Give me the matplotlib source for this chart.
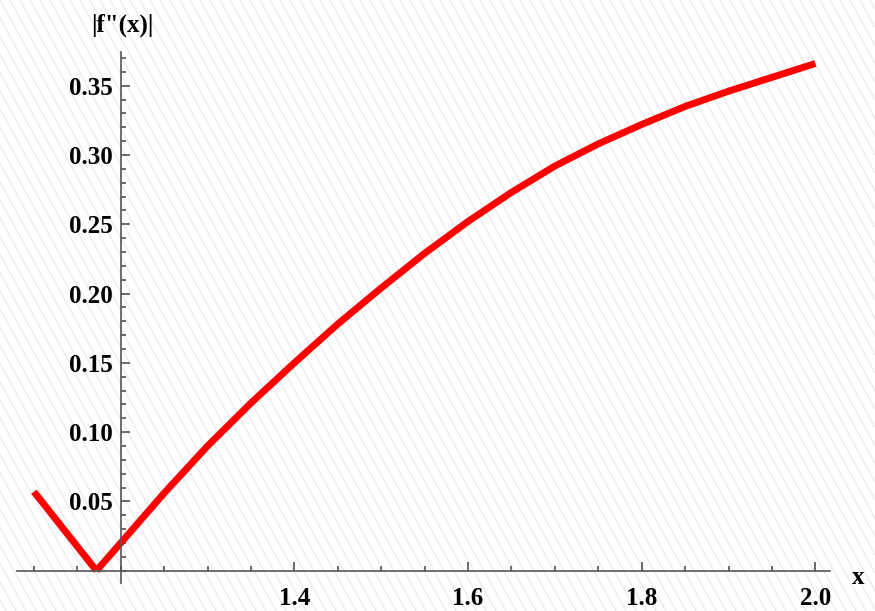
import matplotlib
matplotlib.use('Agg')
import matplotlib.pyplot as plt
import numpy as np
from matplotlib.ticker import MultipleLocator, FixedLocator

# values
x_left = [1.10, 1.172]
y_left = [0.057, 0.0]

x_right = [1.172, 1.20, 1.25, 1.30, 1.35, 1.40, 1.45, 1.50, 1.55, 1.60,
           1.65, 1.70, 1.75, 1.80, 1.85, 1.90, 1.95, 2.00]
y_right = [0.0, 0.020, 0.056, 0.090, 0.121, 0.150, 0.178, 0.204, 0.229, 0.252,
           0.273, 0.292, 0.308, 0.322, 0.335, 0.346, 0.356, 0.366]

x_ticks = [1.4, 1.6, 1.8, 2.0]
y_ticks = [0.05, 0.10, 0.15, 0.20, 0.25, 0.30, 0.35]

W, H = 875, 611
fig = plt.figure(figsize=(W / 100, H / 100), dpi=100)
fig.patch.set_facecolor('white')

# faint diagonal background pattern
bg = fig.add_axes([0, 0, 1, 1], zorder=-5)
bg.set_xlim(0, W)
bg.set_ylim(H, 0)
bg.axis('off')
for x0 in np.arange(-400, W + 20, 10):
    bg.plot([x0, x0 + 0.55 * H], [0, H], color='#eaeaea', lw=0.9)

ax = fig.add_axes([17 / W, 1 - 583 / H, (830 - 17) / W, (583 - 52) / H])
ax.patch.set_alpha(0)
ax.set_xlim(1.0805, 2.0169)
ax.set_ylim(-0.0089, 0.3743)

ax.plot(x_left, y_left, color='red', lw=5, solid_capstyle='butt', solid_joinstyle='miter')
ax.plot(x_right, y_right, color='red', lw=5, solid_capstyle='butt', solid_joinstyle='round')

for s in ['top', 'right']:
    ax.spines[s].set_visible(False)
ax.spines['left'].set_position(('data', 1.2))
ax.spines['bottom'].set_position(('data', 0.0))
for s in ['left', 'bottom']:
    ax.spines[s].set_color('#555555')
    ax.spines[s].set_linewidth(1.2)

ax.xaxis.set_major_locator(FixedLocator(x_ticks))
ax.xaxis.set_minor_locator(MultipleLocator(0.05))
ax.yaxis.set_major_locator(FixedLocator(y_ticks))
ax.yaxis.set_minor_locator(MultipleLocator(0.01))
ax.set_xticklabels(['%.1f' % v for v in x_ticks])
ax.set_yticklabels(['%.2f' % v for v in y_ticks])

font = {'family': 'Liberation Serif', 'weight': 'bold', 'size': 18}
for lab in ax.get_xticklabels() + ax.get_yticklabels():
    lab.set_fontfamily('Liberation Serif')
    lab.set_fontweight('bold')
    lab.set_fontsize(18)

ax.tick_params(axis='both', which='both', direction='in', color='#444444', width=1.1)
ax.tick_params(axis='both', which='major', length=6.5)
ax.tick_params(axis='both', which='minor', length=3.6)
ax.tick_params(axis='x', which='major', pad=12)
ax.tick_params(axis='y', which='major', pad=6)

fig.text(122 / W, 1 - 25 / H, '|f"(x)|', ha='center', va='center', **font)
fig.text(858 / W, 1 - 577 / H, "x", ha='center', va='center', **font)

fig.savefig('out.png', dpi=100)
